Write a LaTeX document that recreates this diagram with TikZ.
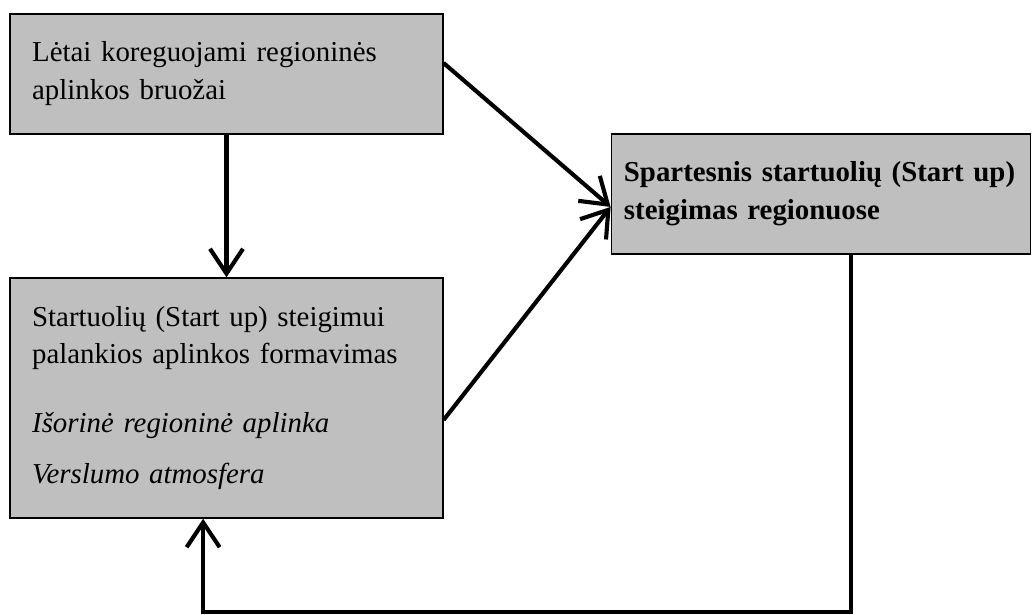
\documentclass[tikz,border=0pt]{standalone}
\usepackage{fontspec}
\setmainfont{Liberation Serif}
\usetikzlibrary{arrows.meta}

\definecolor{blokopilka}{RGB}{191,191,191}
\tikzset{
    blokas/.style={draw=black, line width=0.6pt, fill=blokopilka, align=left,
        inner xsep=0.28cm, font=\fontsize{10.5}{13.8}\selectfont},
    rodykle/.style={line width=1.5pt, -{Straight Barb[length=9pt,width=12pt]}}
}

\begin{document}
\begin{tikzpicture}[x=0.01278cm, y=-0.01278cm] % one unit = one pixel of the sketch, y runs down
    \useasboundingbox (0,0) rectangle (1034,614);

    \node[blokas, text width=4.97cm, minimum height=1.534cm] (letai) at (226.5,74)
        {Lėtai koreguojami regioninės\\aplinkos bruožai};
    \node[blokas, text width=4.97cm, minimum height=3.067cm] (startuoliai) at (226.5,398)
        {Startuolių (Start up) steigimui\\palankios aplinkos formavimas\\[11pt]
         \textit{Išorinė regioninė aplinka}\\[5pt]
         \textit{Verslumo atmosfera}};
    \node[blokas, text width=5.04cm, inner xsep=0.16cm, minimum height=1.534cm,
        font=\fontsize{10.5}{13.8}\selectfont\bfseries] (spartesnis) at (821,194)
        {Spartesnis startuolių (Start up)\\steigimas regionuose};

    \coordinate (apacia) at (500,612); % bottom run of the feedback line

    \draw[rodykle] (letai) -- (startuoliai);
    \draw[rodykle] ([yshift=4pt]letai.east) -- ([yshift=-4.7pt]spartesnis.west);
    \draw[rodykle] ([yshift=-8pt]startuoliai.east) -- ([yshift=-4.7pt]spartesnis.west);
    \draw[rodykle] ([xshift=11pt]spartesnis.south) |- (apacia)
        -| ([xshift=-8.5pt]startuoliai.south);
\end{tikzpicture}
\end{document}
